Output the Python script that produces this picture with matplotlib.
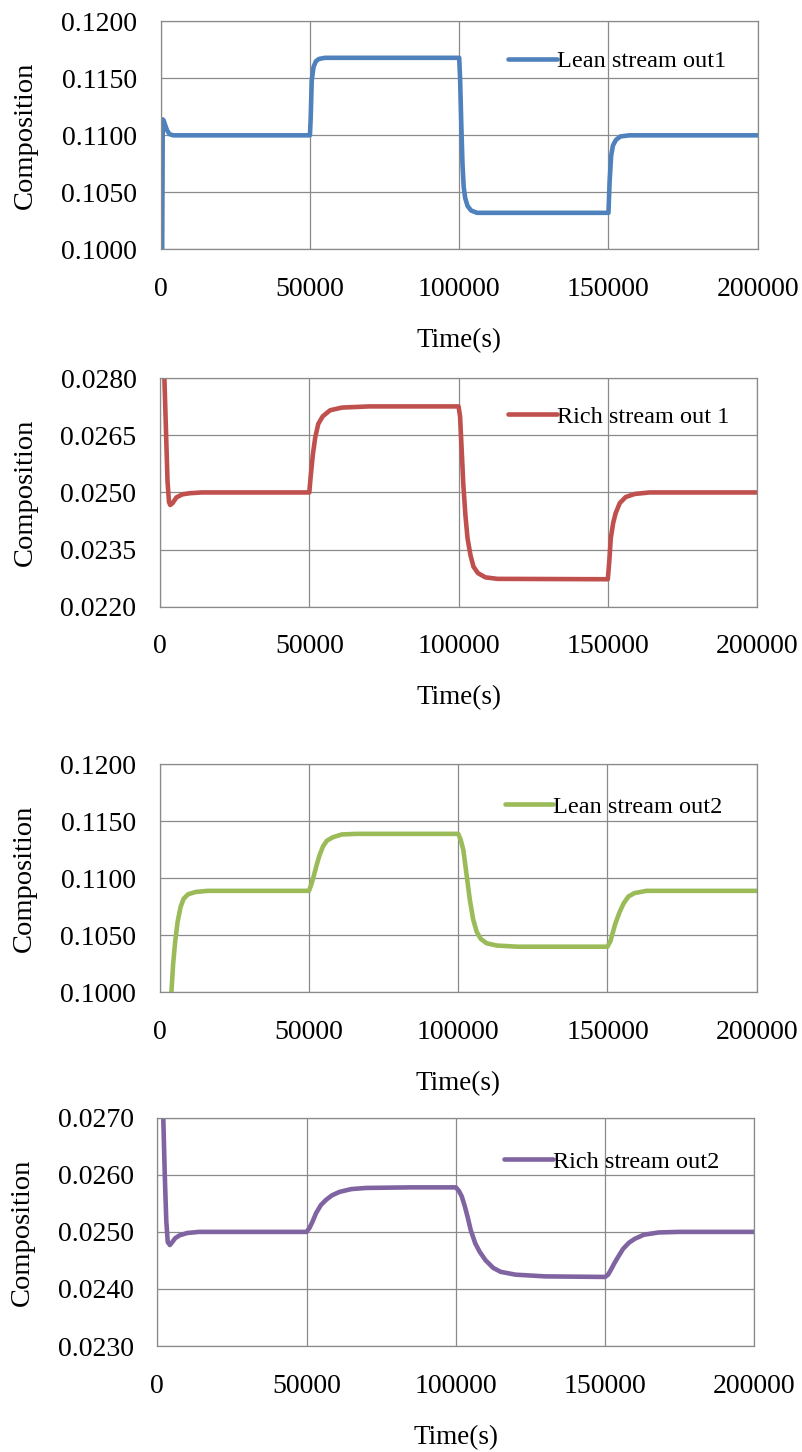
import matplotlib
matplotlib.use("Agg")
import matplotlib.pyplot as plt
from matplotlib.ticker import FormatStrFormatter, MultipleLocator

plt.rcParams['font.family'] = ['Liberation Serif', 'DejaVu Serif']

# time (s) and composition
lean1_t = [500, 700, 1000, 1500, 2200, 3000, 4200, 50000,
           50250, 50600, 51200, 52000, 53000, 55000, 100000,
           100300, 100700, 101100, 101500, 102000, 102800, 104000, 106000, 150000,
           150400, 150900, 151500, 152500, 154000, 157000, 200000]
lean1_y = [0.0998, 0.1114, 0.1113, 0.1109, 0.1104, 0.1101, 0.1100, 0.1100,
           0.1115, 0.1148, 0.1160, 0.1165, 0.1167, 0.1168, 0.1168,
           0.1150, 0.1110, 0.1075, 0.1055, 0.1045, 0.1038, 0.1034, 0.1032, 0.1032,
           0.1060, 0.1082, 0.1091, 0.1096, 0.1099, 0.1100, 0.1100]

rich1_t = [1000, 1500, 2000, 2500, 3000, 3400, 4200, 5500, 7500, 10000, 14000, 50000,
           50500, 51200, 52000, 53000, 54500, 57000, 61000, 70000, 100000,
           100500, 101000, 101600, 102300, 103000, 104000, 105000, 106500, 109000, 113000, 150000,
           150500, 151000, 151800, 152600, 154000, 156000, 159000, 164000, 200000]
rich1_y = [0.0290, 0.0279, 0.0266, 0.0253, 0.02475, 0.02467, 0.02472, 0.02487, 0.02495, 0.02498, 0.0250, 0.0250,
           0.02545, 0.0260, 0.02645, 0.02680, 0.02700, 0.02716, 0.02723, 0.02726, 0.02726,
           0.0270, 0.0262, 0.0252, 0.0244, 0.0238, 0.02335, 0.02305, 0.02288, 0.02277, 0.02273, 0.02272,
           0.0232, 0.0238, 0.0242, 0.02445, 0.02472, 0.02488, 0.02496, 0.0250, 0.0250]

lean2_t = [3800, 4500, 5200, 6000, 7000, 8000, 9500, 12000, 16000, 50000,
           50700, 51500, 52500, 53500, 54700, 56000, 58000, 61000, 66000, 100000,
           100800, 101700, 102700, 103900, 105000, 106200, 107500, 109500, 113000, 120000, 150000,
           151000, 152600, 154000, 155400, 157000, 159000, 163000, 200000]
lean2_y = [0.0995, 0.1025, 0.1045, 0.1062, 0.1075, 0.1082, 0.1086, 0.1088, 0.1089, 0.1089,
           0.1094, 0.1101, 0.1111, 0.1120, 0.1128, 0.1133, 0.1136, 0.11385, 0.1139, 0.1139,
           0.1134, 0.1125, 0.1105, 0.1081, 0.1064, 0.1053, 0.1047, 0.1043, 0.1041, 0.1040, 0.1040,
           0.1045, 0.1060, 0.1070, 0.1078, 0.1084, 0.1087, 0.1089, 0.1089]

rich2_t = [1500, 2000, 2500, 3000, 3500, 4200, 5000, 6000, 7500, 10000, 14000, 50000,
           51000, 52000, 53200, 54800, 56500, 58500, 61000, 65000, 70000, 85000, 100000,
           101000, 102000, 103000, 104000, 105000, 106500, 108000, 110000, 112500, 115000, 120000, 130000, 150000,
           151000, 152000, 153000, 154000, 156000, 158000, 160000, 163000, 168000, 175000, 200000]
rich2_y = [0.0275, 0.0270, 0.0260, 0.0252, 0.02482, 0.02477, 0.02482, 0.02489, 0.02494, 0.02498, 0.0250, 0.0250,
           0.02507, 0.02518, 0.02533, 0.02547, 0.02556, 0.02564, 0.0257, 0.02575, 0.02577, 0.02578, 0.02578,
           0.02572, 0.02562, 0.02545, 0.02525, 0.02503, 0.02480, 0.02465, 0.02450, 0.02437, 0.02430, 0.02425, 0.02422, 0.02421,
           0.02425, 0.02434, 0.02444, 0.02453, 0.02470, 0.02481, 0.02488, 0.02495, 0.02499, 0.0250, 0.0250]

lean1_ticks = [0.1000, 0.1050, 0.1100, 0.1150, 0.1200]
rich1_ticks = [0.0220, 0.0235, 0.0250, 0.0265, 0.0280]
lean2_ticks = [0.1000, 0.1050, 0.1100, 0.1150, 0.1200]
rich2_ticks = [0.0230, 0.0240, 0.0250, 0.0260, 0.0270]

panels = [
    (lean1_t, lean1_y, "Lean stream out1", "#4F81BD", lean1_ticks,
     [0.2001, 0.8283, 0.7435, 0.1570], (0.582, 0.826)),
    (rich1_t, rich1_y, "Rich stream out 1", "#C0504D", rich1_ticks,
     [0.1993, 0.5822, 0.7435, 0.1573], (0.583, 0.832)),
    (lean2_t, lean2_y, "Lean stream out2", "#9BBB59", lean2_ticks,
     [0.1989, 0.3166, 0.7435, 0.1570], (0.578, 0.814)),
    (rich2_t, rich2_y, "Rich stream out2", "#8064A2", rich2_ticks,
     [0.1959, 0.0730, 0.7435, 0.1572], (0.581, 0.807)),
]

fig = plt.figure(figsize=(8.03, 14.52), dpi=100)
grid_col = "#8a8a8a"

for t, y, name, col, yticks, rect, leg_xy in panels:
    ax = fig.add_axes(rect)
    ax.plot(t, y, color=col, lw=3.3, label=name, solid_capstyle='round',
            solid_joinstyle='round')
    ax.set_xlim(0, 200000)
    ax.set_ylim(yticks[0], yticks[-1])
    ax.xaxis.set_major_locator(MultipleLocator(50000))
    ax.set_yticks(yticks)
    ax.yaxis.set_major_formatter(FormatStrFormatter('%.4f'))
    ax.grid(True, color=grid_col, lw=0.9)
    ax.set_axisbelow(True)
    for s in ax.spines.values():
        s.set_color(grid_col)
        s.set_linewidth(0.9)
    ax.tick_params(axis='both', length=0, labelsize=20)
    ax.tick_params(axis='x', pad=20)
    ax.tick_params(axis='y', pad=17)
    ax.set_xlabel("Time(s)", fontsize=19.5)
    ax.xaxis.label.set_va('center')
    ax.xaxis.set_label_coords(0.5, -0.40)
    ax.set_ylabel("Composition", fontsize=20.5)
    ax.yaxis.label.set_va('center')
    ax.yaxis.set_label_coords(-0.226, 0.5)
    ax.legend(loc='center left', bbox_to_anchor=leg_xy, frameon=False,
              borderpad=0, borderaxespad=0, handlelength=2.0, handletextpad=0,
              fontsize=17.5)

fig.savefig("out.png", dpi=100)
